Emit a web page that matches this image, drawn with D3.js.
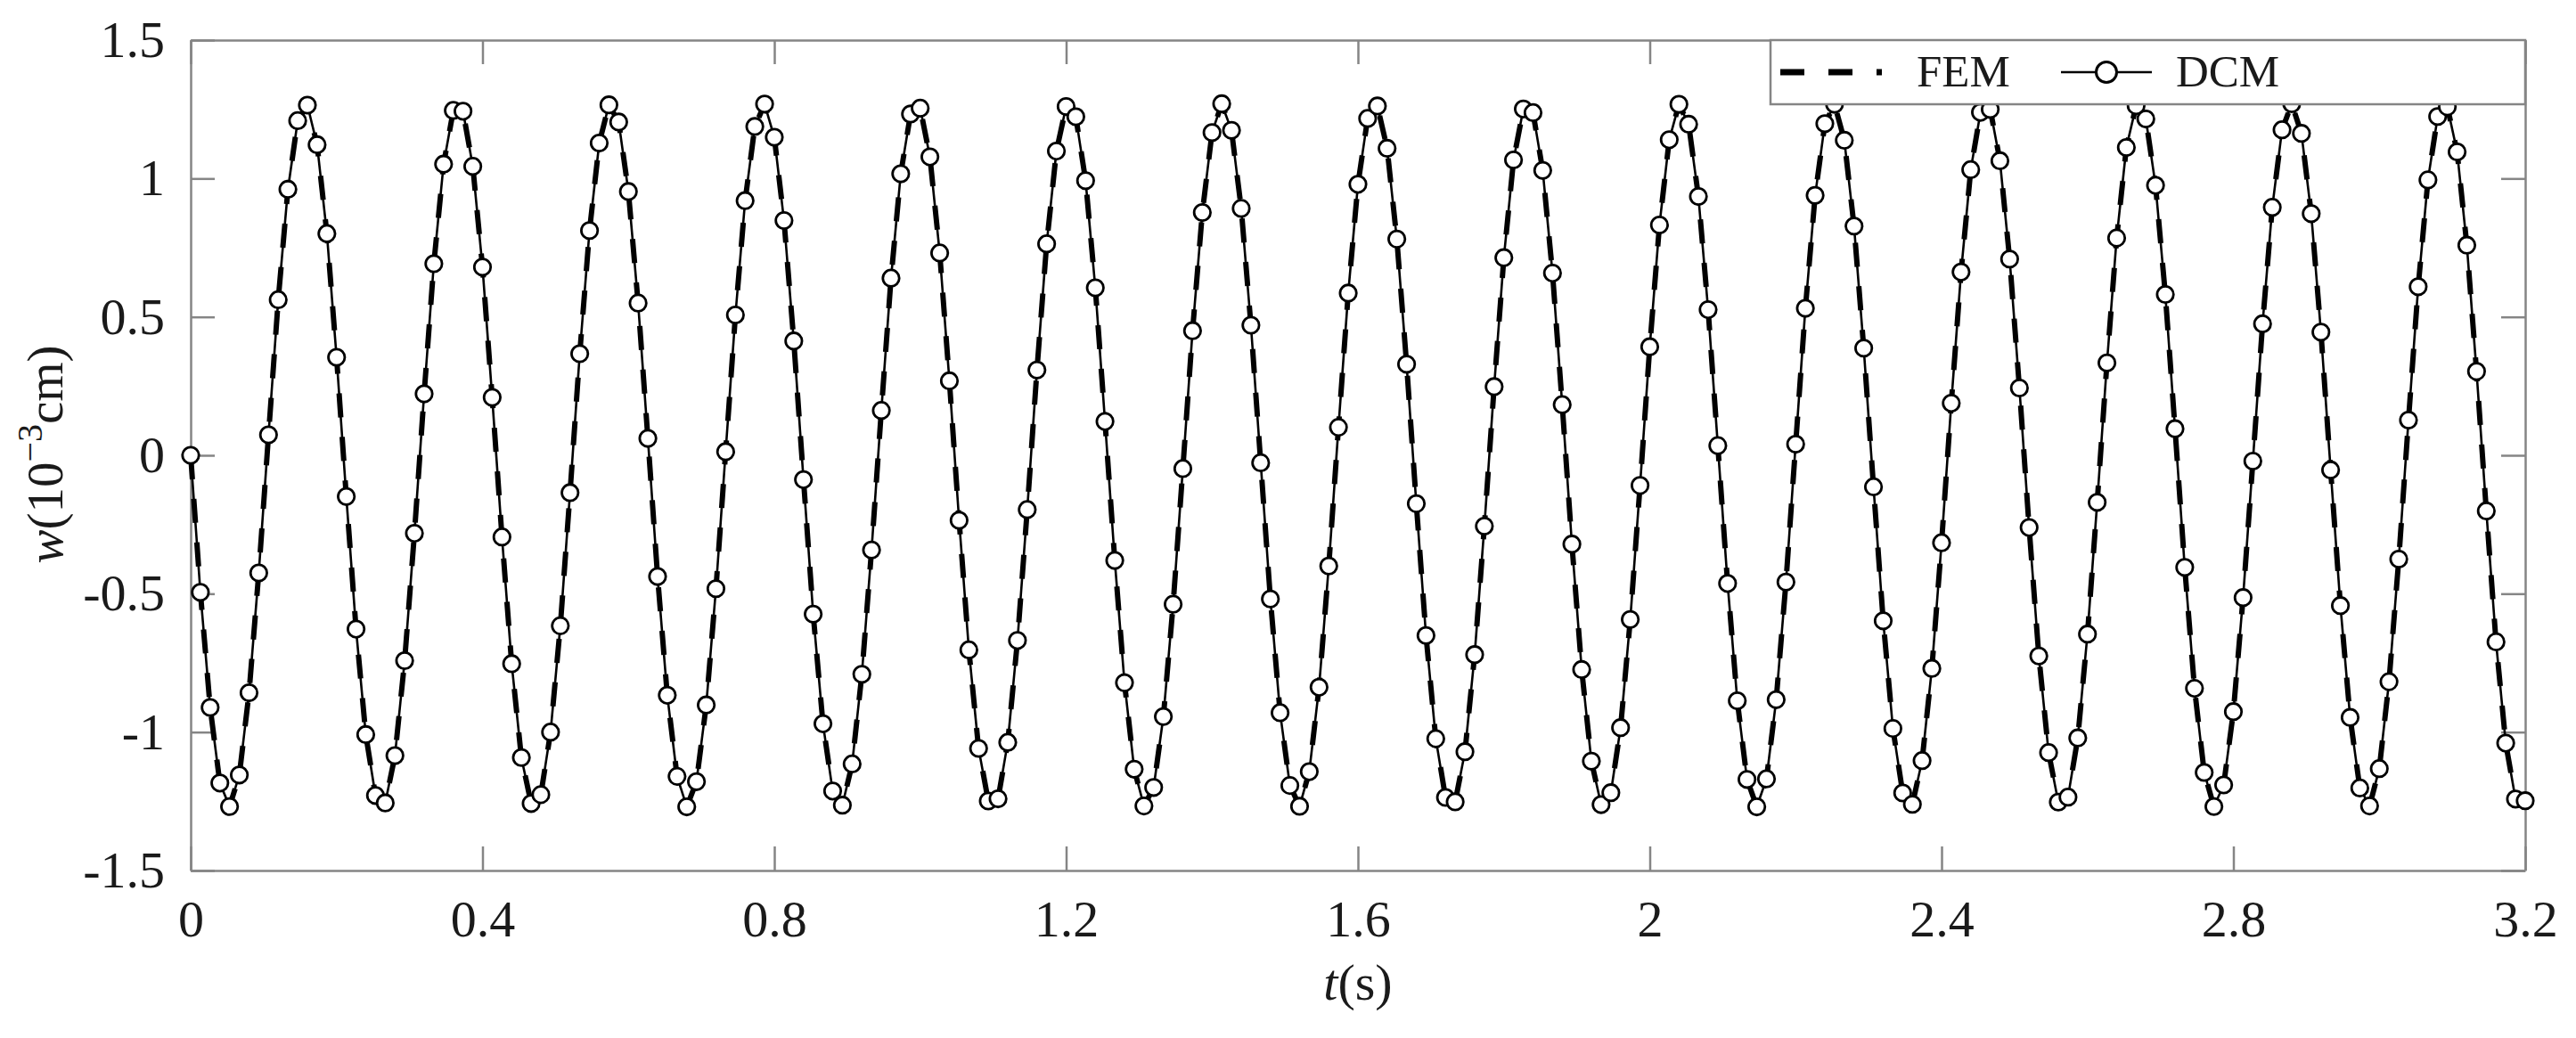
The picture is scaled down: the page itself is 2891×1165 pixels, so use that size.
<!DOCTYPE html>
<html><head><meta charset="utf-8">
<script src="https://cdn.jsdelivr.net/npm/d3@7"></script>
<style>
  html,body{margin:0;padding:0;background:#fff}
  svg{display:block}
  text{font-family:"Liberation Serif","Times New Roman",serif;fill:#1a1a1a}
</style>
</head><body>
<svg id="chart" width="2891" height="1165"></svg>
<script>
// ---------------- data ----------------
const timeS = [
  0,0.0133,0.0267,0.04,0.0533,0.0667,0.08,0.0933,0.1067,0.12,0.1333,0.1467,0.16,0.1733,0.1867,0.2,0.2133,0.2267,0.24,0.2533,0.2667,0.28,0.2933,0.3067,0.32,0.3333,0.3467,0.36,0.3733,0.3867,
  0.4,0.4133,0.4267,0.44,0.4533,0.4667,0.48,0.4933,0.5067,0.52,0.5333,0.5467,0.56,0.5733,0.5867,0.6,0.6133,0.6267,0.64,0.6533,0.6667,0.68,0.6933,0.7067,0.72,0.7333,0.7467,0.76,0.7733,0.7867,
  0.8,0.8133,0.8267,0.84,0.8533,0.8667,0.88,0.8933,0.9067,0.92,0.9333,0.9467,0.96,0.9733,0.9867,1,1.0133,1.0267,1.04,1.0533,1.0667,1.08,1.0933,1.1067,1.12,1.1333,1.1467,1.16,1.1733,1.1867,
  1.2,1.2133,1.2267,1.24,1.2533,1.2667,1.28,1.2933,1.3067,1.32,1.3333,1.3467,1.36,1.3733,1.3867,1.4,1.4133,1.4267,1.44,1.4533,1.4667,1.48,1.4933,1.5067,1.52,1.5333,1.5467,1.56,1.5733,1.5867,
  1.6,1.6133,1.6267,1.64,1.6533,1.6667,1.68,1.6933,1.7067,1.72,1.7333,1.7467,1.76,1.7733,1.7867,1.8,1.8133,1.8267,1.84,1.8533,1.8667,1.88,1.8933,1.9067,1.92,1.9333,1.9467,1.96,1.9733,1.9867,
  2,2.0133,2.0267,2.04,2.0533,2.0667,2.08,2.0933,2.1067,2.12,2.1333,2.1467,2.16,2.1733,2.1867,2.2,2.2133,2.2267,2.24,2.2533,2.2667,2.28,2.2933,2.3067,2.32,2.3333,2.3467,2.36,2.3733,2.3867,
  2.4,2.4133,2.4267,2.44,2.4533,2.4667,2.48,2.4933,2.5067,2.52,2.5333,2.5467,2.56,2.5733,2.5867,2.6,2.6133,2.6267,2.64,2.6533,2.6667,2.68,2.6933,2.7067,2.72,2.7333,2.7467,2.76,2.7733,2.7867,
  2.8,2.8133,2.8267,2.84,2.8533,2.8667,2.88,2.8933,2.9067,2.92,2.9333,2.9467,2.96,2.9733,2.9867,3,3.0133,3.0267,3.04,3.0533,3.0667,3.08,3.0933,3.1067,3.12,3.1333,3.1467,3.16,3.1733,3.1867,
  3.2
];
// DCM deflection w (10^-3 cm)
const dcmW = [
  0,-0.495,-0.911,-1.184,-1.269,-1.155,-0.858,-0.425,0.074,0.562,0.961,1.209,1.265,1.122,0.801,0.354,-0.149,-0.628,-1.009,-1.229,-1.256,-1.085,-0.742,-0.282,0.222,0.692,1.052,1.246,1.243,1.044,
  0.680,0.209,-0.295,-0.753,-1.092,-1.258,-1.226,-1.000,-0.616,-0.135,0.367,0.812,1.128,1.266,1.204,0.953,0.550,0.061,-0.438,-0.867,-1.160,-1.270,-1.179,-0.902,-0.482,0.013,0.507,0.920,1.188,1.269,
  1.149,0.848,0.413,-0.088,-0.574,-0.970,-1.213,-1.264,-1.115,-0.791,-0.342,0.162,0.640,1.017,1.233,1.254,1.078,0.731,0.269,-0.235,-0.703,-1.059,-1.249,-1.241,-1.037,-0.669,-0.196,0.308,0.764,1.099,
  1.260,1.223,0.992,0.605,0.122,-0.380,-0.822,-1.134,-1.267,-1.200,-0.944,-0.538,-0.048,0.450,0.877,1.166,1.270,1.174,0.892,0.470,-0.027,-0.519,-0.930,-1.193,-1.268,-1.143,-0.838,-0.400,0.101,0.586,
  0.979,1.217,1.262,1.109,0.781,0.329,-0.175,-0.651,-1.024,-1.236,-1.252,-1.071,-0.720,-0.256,0.248,0.714,1.067,1.251,1.238,1.029,0.658,0.183,-0.321,-0.774,-1.105,-1.262,-1.219,-0.984,-0.593,-0.109,
  0.392,0.832,1.140,1.268,1.196,0.935,0.526,0.035,-0.463,-0.887,-1.171,-1.270,-1.169,-0.883,-0.458,0.040,0.531,0.939,1.198,1.268,1.138,0.828,0.387,-0.114,-0.598,-0.987,-1.220,-1.261,-1.103,-0.770,
  -0.316,0.188,0.662,1.032,1.239,1.250,1.064,0.709,0.243,-0.261,-0.725,-1.074,-1.253,-1.235,-1.021,-0.646,-0.170,0.334,0.785,1.112,1.263,1.215,0.975,0.581,0.096,-0.405,-0.842,-1.146,-1.269,-1.191,
  -0.926,-0.514,-0.021,0.475,0.896,1.176,1.270,1.163,0.873,0.445,-0.053,-0.543,-0.947,-1.202,-1.267,-1.132,-0.818,-0.375,0.127,0.609,0.995,1.224,1.259,1.096,0.759,0.303,-0.201,-0.674,-1.040,-1.242,
  -1.248
];
// FEM curve coincides with DCM at every sample in the figure
const femW = dcmW;

const xTicks = [0,0.4,0.8,1.2,1.6,2,2.4,2.8,3.2];
const yTicks = [-1.5,-1,-0.5,0,0.5,1,1.5];
const seriesNames = ["FEM","DCM"];

// ---------------- drawing ----------------
const svg = d3.select("#chart");
const x = d3.scaleLinear().domain([0,3.2]).range([214,2834]);
const y = d3.scaleLinear().domain([-1.5,1.5]).range([977,45]);
const axisColor = "#858585";
const tickLen = 27;
const fmt = d => String(d);

const femPts = timeS.map((t,i)=>[t,femW[i]]);
const dcmPts = timeS.map((t,i)=>[t,dcmW[i]]);
const line = d3.line().x(d=>x(d[0])).y(d=>y(d[1]));

function styleAxis(g){
  g.selectAll("path.domain").attr("stroke",axisColor).attr("stroke-width",2.5);
  g.selectAll(".tick line").attr("stroke",axisColor).attr("stroke-width",2.5);
  g.selectAll(".tick text").attr("font-family","Liberation Serif, Times New Roman, serif")
    .attr("font-size",58).attr("fill","#1a1a1a");
}
const gx = svg.append("g").attr("transform",`translate(0,${y(-1.5)})`)
  .call(d3.axisBottom(x).tickValues(xTicks).tickFormat(fmt).tickSizeInner(-tickLen).tickSizeOuter(0).tickPadding(33));
styleAxis(gx);
const gxt = svg.append("g").attr("transform",`translate(0,${y(1.5)})`)
  .call(d3.axisTop(x).tickValues(xTicks).tickFormat("").tickSizeInner(-tickLen).tickSizeOuter(0));
styleAxis(gxt);
const gy = svg.append("g").attr("transform",`translate(${x(0)},0)`)
  .call(d3.axisLeft(y).tickValues(yTicks).tickFormat(fmt).tickSizeInner(-tickLen).tickSizeOuter(0).tickPadding(29));
styleAxis(gy);
const gyr = svg.append("g").attr("transform",`translate(${x(3.2)},0)`)
  .call(d3.axisRight(y).tickValues(yTicks).tickFormat("").tickSizeInner(-tickLen).tickSizeOuter(0));
styleAxis(gyr);

// FEM dashed thick line
svg.append("path").datum(femPts).attr("d",line)
  .attr("fill","none").attr("stroke","#000").attr("stroke-width",6)
  .attr("stroke-dasharray","27,22");
// DCM solid thin line
svg.append("path").datum(dcmPts).attr("d",line)
  .attr("fill","none").attr("stroke","#000").attr("stroke-width",2.6);
// DCM markers
svg.append("g").selectAll("circle").data(dcmPts).join("circle")
  .attr("cx",d=>x(d[0])).attr("cy",d=>y(d[1])).attr("r",9.2)
  .attr("fill","#fff").attr("stroke","#000").attr("stroke-width",2.8);

// legend
const lg = svg.append("g");
lg.append("rect").attr("x",1987).attr("y",y(1.5)).attr("width",x(3.2)-1987).attr("height",72)
  .attr("fill","#fff").attr("stroke",axisColor).attr("stroke-width",2.5);
const ly = 81;
lg.append("line").attr("x1",1998).attr("x2",2112).attr("y1",ly).attr("y2",ly)
  .attr("stroke","#000").attr("stroke-width",7).attr("stroke-dasharray","27,27");
lg.append("text").attr("x",2151).attr("y",97).attr("font-size",51).text(seriesNames[0]);
lg.append("line").attr("x1",2313).attr("x2",2415).attr("y1",ly).attr("y2",ly)
  .attr("stroke","#000").attr("stroke-width",2.6);
lg.append("circle").attr("cx",2364).attr("cy",ly).attr("r",11.5)
  .attr("fill","#fff").attr("stroke","#000").attr("stroke-width",3);
lg.append("text").attr("x",2442).attr("y",97).attr("font-size",51).text(seriesNames[1]);

// axis titles
const xt = svg.append("text").attr("x",(x(0)+x(3.2))/2).attr("y",1122)
  .attr("text-anchor","middle").attr("font-size",58);
xt.append("tspan").attr("font-style","italic").text("t");
xt.append("tspan").text("(s)");

const yt = svg.append("text").attr("transform","translate(70,510) rotate(-90)")
  .attr("text-anchor","middle").attr("font-size",57);
yt.append("tspan").attr("font-style","italic").text("w");
yt.append("tspan").text("(10");
yt.append("tspan").attr("font-size",40).attr("dy",-23).text("\u22123");
yt.append("tspan").attr("dy",23).text("cm)");
</script>
</body></html>
